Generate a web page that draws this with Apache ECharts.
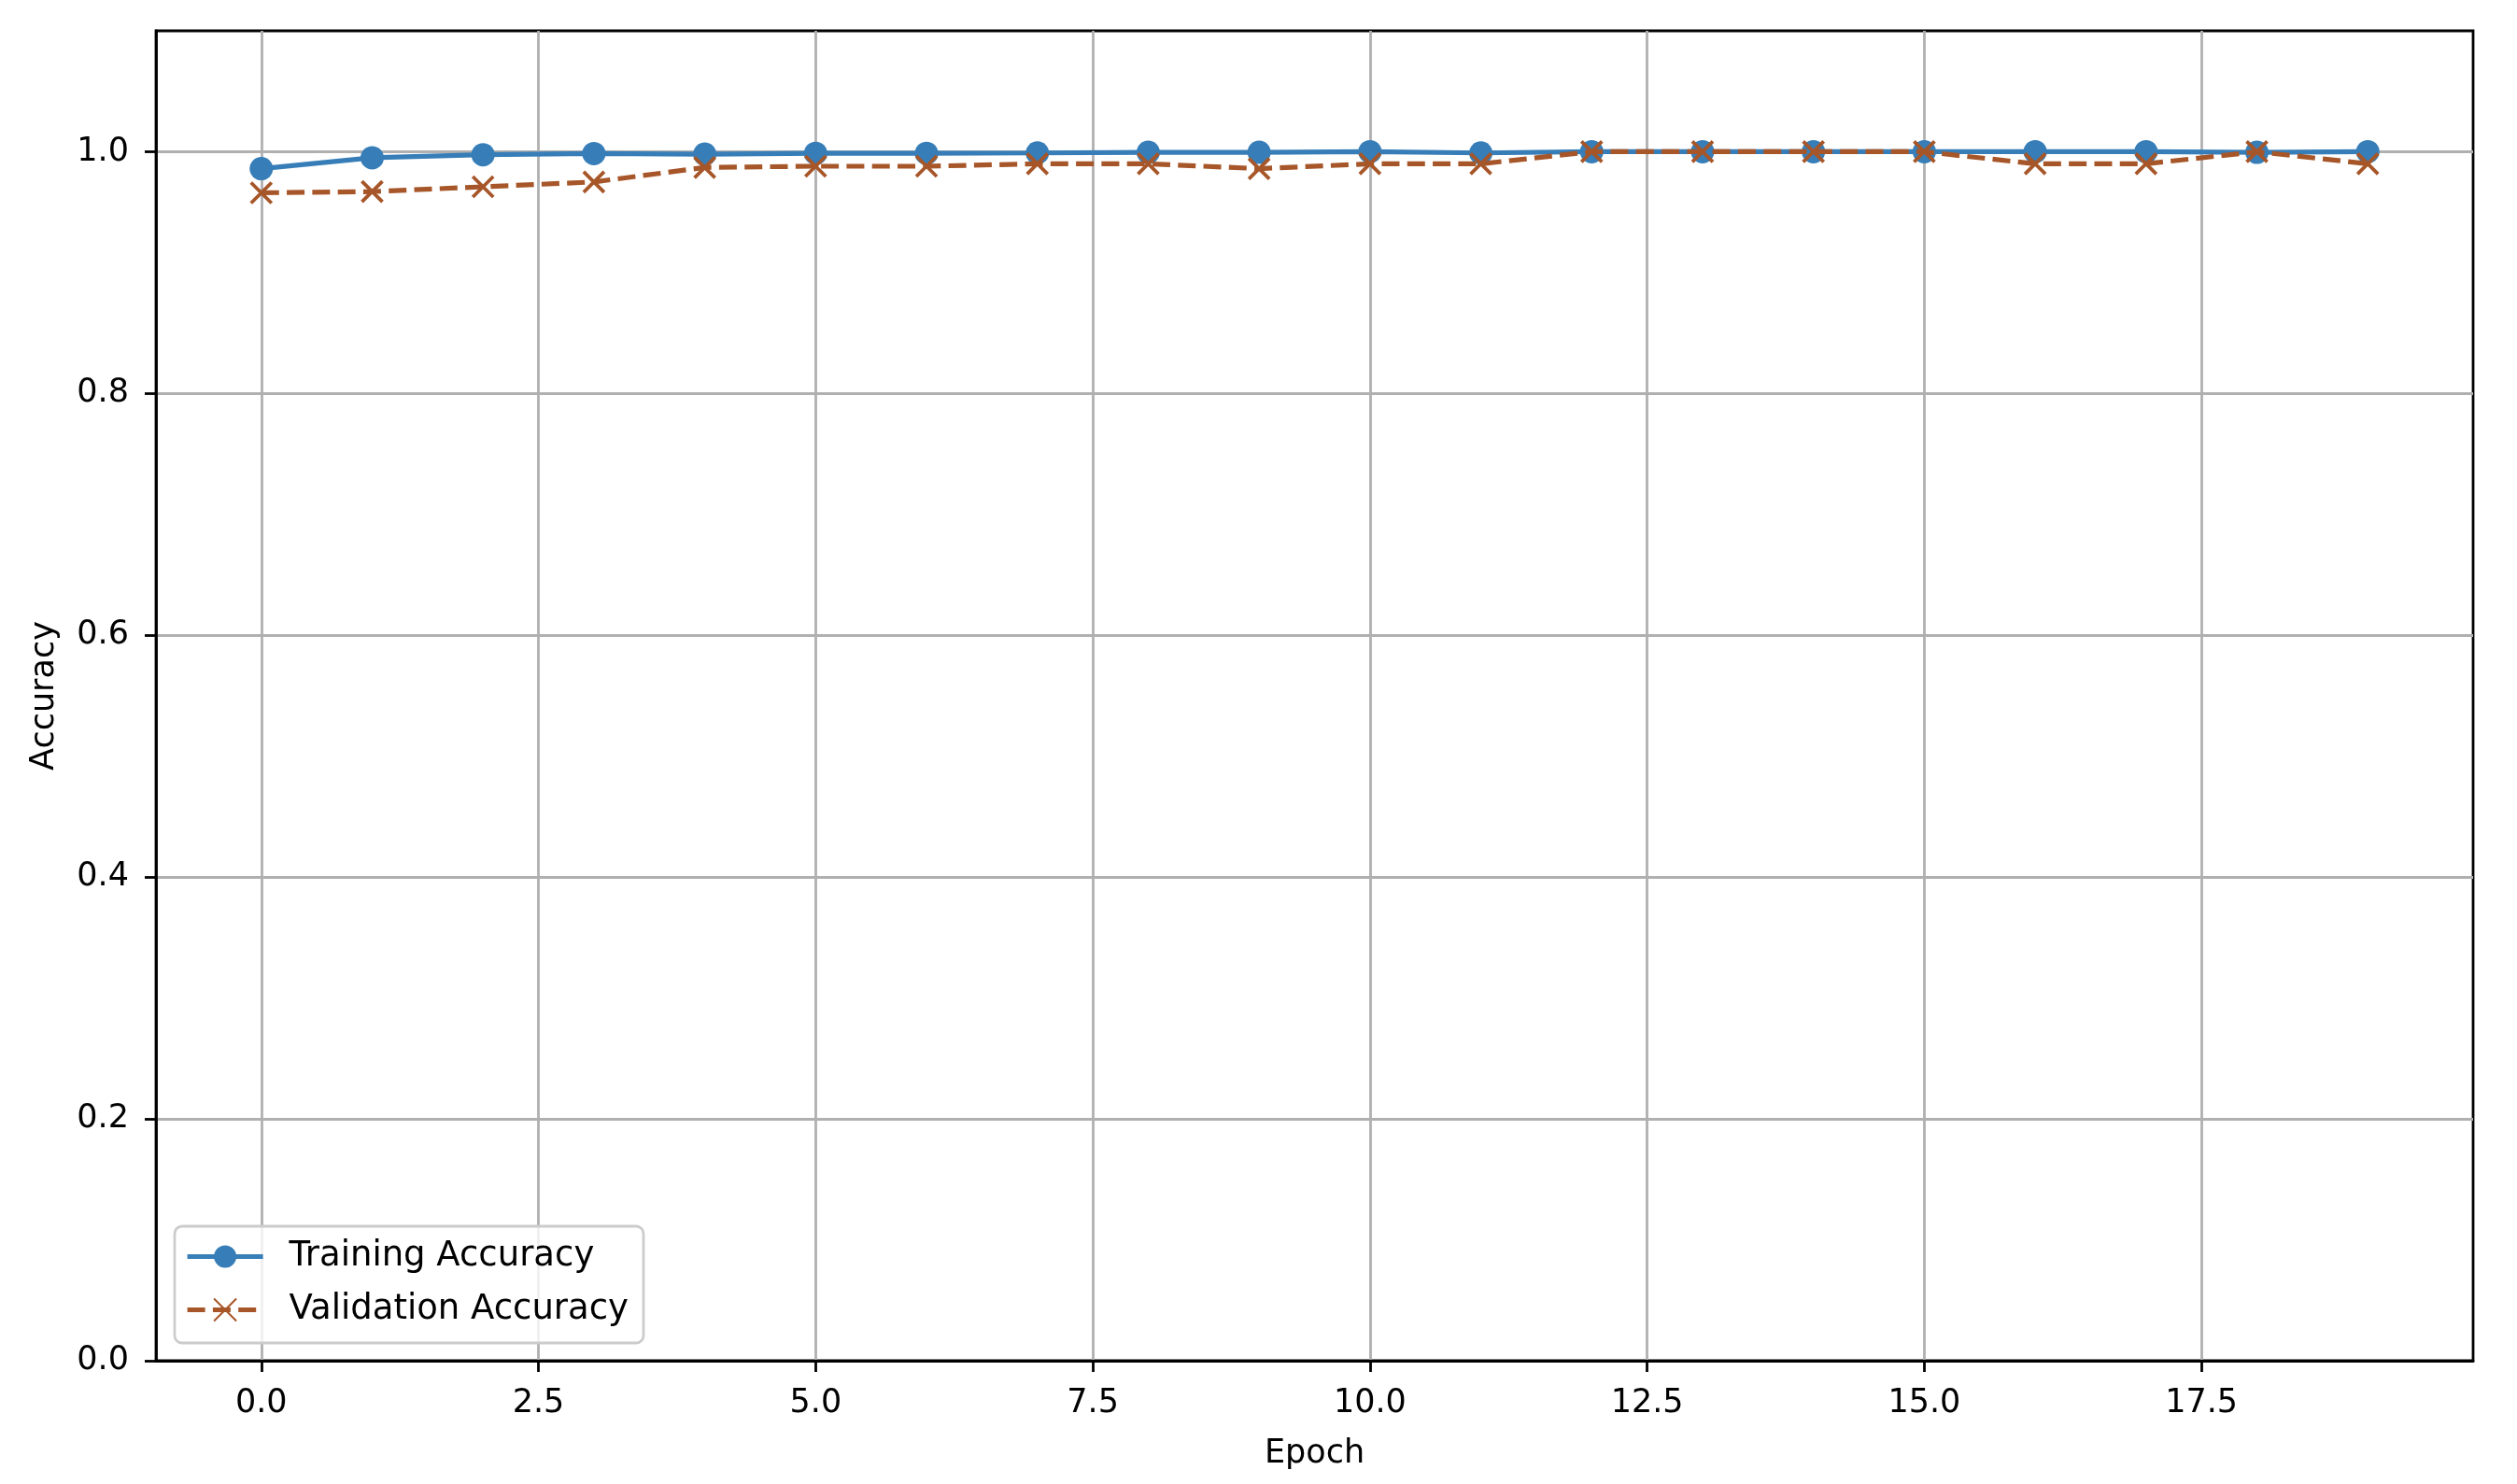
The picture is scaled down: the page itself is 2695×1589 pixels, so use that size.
<!DOCTYPE html>
<html>
<head>
<meta charset="utf-8">
<script src="https://cdn.jsdelivr.net/npm/echarts@6/dist/echarts.min.js"></script>
<style>
html,body{margin:0;padding:0;background:#fff;}
#chart{width:2695px;height:1589px;}
</style>
</head>
<body>
<div id="chart"></div>
<script>
const epochs = [0,1,2,3,4,5,6,7,8,9,10,11,12,13,14,15,16,17,18,19];
const trainingAccuracy = [0.986,0.995,0.9975,0.9985,0.998,0.9987,0.9987,0.999,0.9995,0.9995,1.0,0.999,1.0,1.0,1.0,1.0,1.0,1.0,0.9995,1.0];
const validationAccuracy = [0.966,0.967,0.971,0.975,0.987,0.988,0.988,0.990,0.990,0.986,0.990,0.990,1.0,1.0,1.0,1.0,0.990,0.990,1.0,0.990];
const xTicks = [0,2.5,5,7.5,10,12.5,15,17.5];
const yTicks = [0,0.2,0.4,0.6,0.8,1.0];

const FONT = 'DejaVu Sans';
const FS = 35;
const BLUE = '#377eb8';
const BROWN = '#a65628';

const chart = echarts.init(document.getElementById('chart'), null, {renderer:'canvas'});
chart.setOption({
  animation:false,
  backgroundColor:'#ffffff',
  textStyle:{fontFamily:FONT},
  grid:{left:167,right:47,top:33,bottom:132,show:true,borderColor:'#000',borderWidth:2.8,backgroundColor:'transparent'},
  legend:{
    orient:'vertical',
    left:187, top:1313,
    padding:[14,16,17,11],
    itemGap:20,
    itemWidth:81, itemHeight:30,
    backgroundColor:'rgba(255,255,255,0.8)',
    borderColor:'#cccccc', borderWidth:2.8, borderRadius:8,
    lineStyle:{width:5.2},
    textStyle:{fontFamily:FONT,fontSize:37,color:'#000',padding:[0,0,0,23]},
    data:['Training Accuracy','Validation Accuracy']
  },
  xAxis:{
    type:'value', min:-0.95, max:19.95,
    name:'Epoch', nameLocation:'middle', nameGap:82,
    nameTextStyle:{fontFamily:FONT,fontSize:FS,color:'#000'},
    axisLine:{show:true,onZero:false,lineStyle:{color:'#000',width:2.8}},
    axisTick:{show:true,length:12,lineStyle:{color:'#000',width:2.8},customValues:xTicks},
    axisLabel:{fontFamily:FONT,fontSize:FS,color:'#000',margin:28,customValues:xTicks,
      formatter:v=>v.toFixed(1)},
    splitLine:{show:true,lineStyle:{color:'#b0b0b0',width:2.8}}
  },
  yAxis:{
    type:'value', min:0, max:1.1,
    name:'Accuracy', nameLocation:'middle', nameGap:102,
    nameTextStyle:{fontFamily:FONT,fontSize:FS,color:'#000'},
    axisLine:{show:true,onZero:false,lineStyle:{color:'#000',width:2.8}},
    axisTick:{show:true,length:12,lineStyle:{color:'#000',width:2.8},customValues:yTicks},
    axisLabel:{fontFamily:FONT,fontSize:FS,color:'#000',margin:29,customValues:yTicks,
      formatter:v=>v.toFixed(1)},
    splitLine:{show:true,lineStyle:{color:'#b0b0b0',width:2.8}}
  },
  series:[
    {
      name:'Training Accuracy', type:'line',
      data:epochs.map((e,i)=>[e,trainingAccuracy[i]]),
      symbol:'circle', symbolSize:25, showAllSymbol:true,
      lineStyle:{color:BLUE,width:5.2},
      itemStyle:{color:BLUE,borderWidth:0},
      z:3
    },
    {
      name:'Validation Accuracy', type:'line',
      data:epochs.map((e,i)=>[e,validationAccuracy[i]]),
      symbol:'path://M0,0L10,10M10,0L0,10', symbolSize:22, showAllSymbol:true,
      lineStyle:{color:BROWN,width:5.2,type:[19,8.3]},
      itemStyle:{color:'rgba(0,0,0,0)',borderColor:BROWN,borderWidth:3.8},
      z:4
    }
  ]
});
</script>
</body>
</html>
